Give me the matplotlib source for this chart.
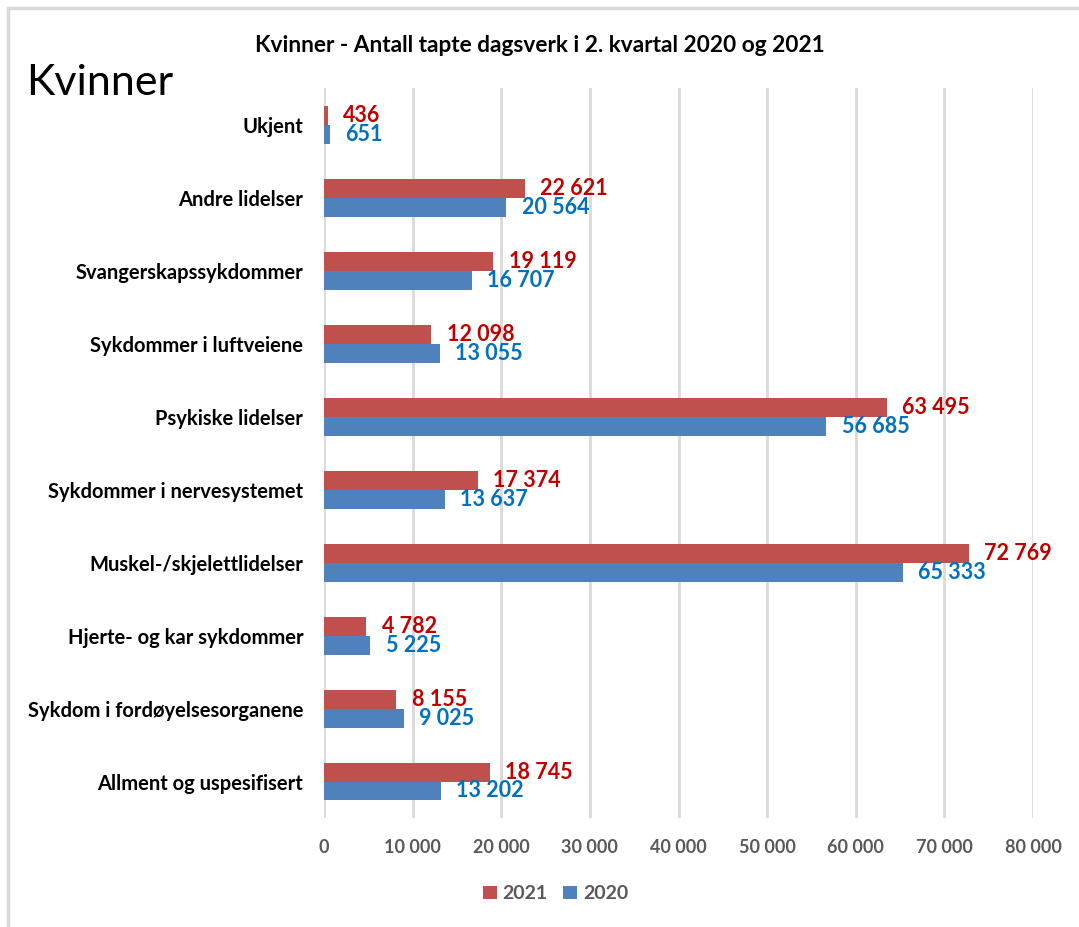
import numpy as np
import matplotlib.pyplot as plt
from matplotlib.patches import Rectangle
from matplotlib.ticker import FuncFormatter

plt.rcParams['font.family'] = ['Lato', 'DejaVu Sans']

# kategorier (fra bunn til topp)
kategorier = ["Allment og uspesifisert", "Sykdom i fordøyelsesorganene",
              "Hjerte- og kar sykdommer", "Muskel-/skjelettlidelser",
              "Sykdommer i nervesystemet", "Psykiske lidelser",
              "Sykdommer i luftveiene", "Svangerskapssykdommer",
              "Andre lidelser", "Ukjent"]
v2021 = [18745, 8155, 4782, 72769, 17374, 63495, 12098, 19119, 22621, 436]
v2020 = [13202, 9025, 5225, 65333, 13637, 56685, 13055, 16707, 20564, 651]
xticks = [0, 10000, 20000, 30000, 40000, 50000, 60000, 70000, 80000]

def fmt(v):
    return f"{v:,}".replace(",", " ")

fig = plt.figure(figsize=(10.79, 9.27), dpi=100)
ax = fig.add_axes([0.3003, 0.1176, 0.6571, 0.7871])

# ramme rundt figuren
fig.patches.append(Rectangle((8/1079, -0.01), 1.1, 1 - 8/927 + 0.01,
                             transform=fig.transFigure, fill=False,
                             edgecolor="#D9D9D9", linewidth=2.5))

y = np.arange(len(kategorier))
h = 0.26
ax.barh(y + h/2, v2021, height=h, color="#C0504D", label="2021", zorder=3)
ax.barh(y - h/2, v2020, height=h, color="#4F81BD", label="2020", zorder=3)

for i in range(len(kategorier)):
    ax.annotate(fmt(v2021[i]), (v2021[i], y[i] + h/2), xytext=(11, 0),
                textcoords="offset points", va="center", ha="left",
                color="#C00000", fontsize=15.5, fontweight="bold")
    ax.annotate(fmt(v2020[i]), (v2020[i], y[i] - h/2), xytext=(11, 0),
                textcoords="offset points", va="center", ha="left",
                color="#0070C0", fontsize=15.5, fontweight="bold")

ax.set_xlim(0, 80000)
ax.set_ylim(-0.5, len(kategorier) - 0.5)
ax.set_xticks(xticks)
ax.xaxis.set_major_formatter(FuncFormatter(lambda v, p: fmt(int(v))))
ax.set_yticks(y)
ax.set_yticklabels(kategorier)
for spine in ax.spines.values():
    spine.set_visible(False)
ax.grid(axis="x", color="#D9D9D9", linewidth=2, zorder=0)
ax.tick_params(axis="both", which="both", length=0)
ax.tick_params(axis="x", pad=15, labelsize=13, labelcolor="#595959")
ax.tick_params(axis="y", pad=15, labelsize=14.5)
for t in ax.get_xticklabels():
    t.set_fontweight("bold")
for t in ax.get_yticklabels():
    t.set_fontweight("bold")

fig.text(0.5, 0.951, "Kvinner - Antall tapte dagsverk i 2. kvartal 2020 og 2021",
         ha="center", va="center", fontsize=16.3, fontweight="bold")
fig.text(0.024, 0.91, "Kvinner", ha="left", va="center", fontsize=31)

handles, labels = ax.get_legend_handles_labels()
leg = fig.legend(handles, labels, loc="center", bbox_to_anchor=(0.515, 0.036),
                 ncol=2, frameon=False, prop={"size": 14, "weight": "bold"},
                 handlelength=0.7, handleheight=0.7, handletextpad=0.3,
                 columnspacing=0.8)
for t in leg.get_texts():
    t.set_color("#595959")

fig.savefig("out.png", dpi=100)
